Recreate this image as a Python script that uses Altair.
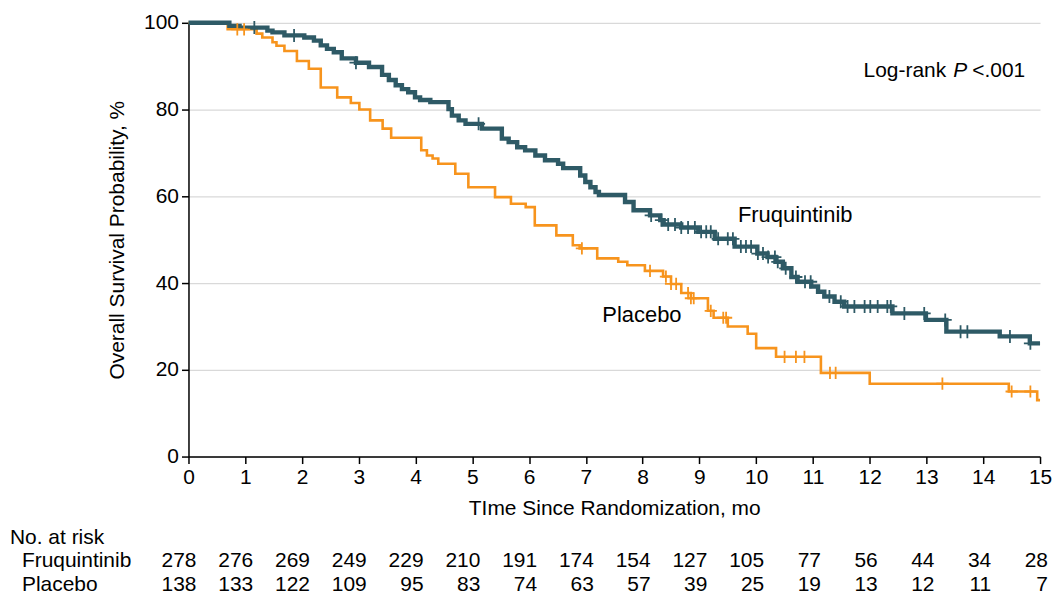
import altair as alt
import pandas as pd

# ---------------- data ----------------
months = list(range(16))

fru_time = [0, 0.72, 0.9, 1.39, 1.48, 1.69, 2.04, 2.21, 2.33, 2.44, 2.56, 2.70, 2.95, 3.18,
            3.41, 3.53, 3.65, 3.76, 3.87, 3.99, 4.08, 4.26, 4.58, 4.64, 4.76, 4.88, 5.17,
            5.52, 5.64, 5.79, 5.93, 6.11, 6.28, 6.51, 6.60, 6.90, 6.99, 7.08, 7.17, 7.23,
            7.69, 7.84, 8.13, 8.31, 8.37, 8.68, 8.98, 9.27, 9.62, 10.02, 10.20, 10.34,
            10.47, 10.62, 10.73, 10.97, 11.09, 11.20, 11.38, 11.55, 12.40, 12.99, 13.35,
            14.29, 14.82, 15.0]
fru_surv = [100, 99.3, 98.9, 98.2, 97.8, 97.1, 96.6, 95.9, 94.8, 94.0, 93.2, 91.8, 90.8, 89.8,
            88.0, 86.8, 85.6, 84.7, 84.0, 82.8, 82.2, 81.7, 80.1, 78.6, 77.5, 76.7, 75.6,
            73.3, 72.5, 71.3, 70.6, 69.4, 68.3, 67.5, 66.5, 64.8, 63.3, 62.1, 61.0, 60.3,
            58.7, 56.8, 55.6, 54.5, 53.5, 52.8, 51.8, 50.2, 48.4, 46.8, 46.0, 44.9,
            43.4, 41.4, 40.3, 39.2, 38.0, 36.9, 35.7, 34.6, 33.0, 31.5, 28.8,
            27.7, 26.1, 26.1]

pla_time = [0, 0.69, 1.20, 1.30, 1.48, 1.55, 1.69, 1.91, 2.12, 2.33, 2.62, 2.86, 3.01, 3.20,
            3.42, 3.57, 4.10, 4.20, 4.30, 4.40, 4.70, 4.93, 5.40, 5.68, 5.94, 6.10, 6.48,
            6.77, 6.89, 7.20, 7.57, 7.73, 8.04, 8.36, 8.50, 8.68, 8.85, 9.15, 9.25, 9.50,
            9.85, 10.00, 10.35, 11.14, 12.00, 14.45, 14.95, 15.0]
pla_surv = [100, 98.5, 97.5, 96.6, 95.5, 94.7, 93.5, 91.2, 89.4, 85.1, 82.8, 81.5, 80.0, 77.5,
            75.6, 73.5, 70.6, 69.4, 68.7, 67.5, 65.2, 62.1, 59.8, 58.3, 57.5, 53.3, 51.0,
            48.7, 48.0, 45.7, 44.9, 44.1, 42.8, 41.5, 39.8, 37.7, 36.5, 33.6, 32.0, 30.0,
            28.3, 25.0, 23.0, 19.3, 16.8, 15.0, 13.0, 13.0]

fru_cens = [1.16, 1.86, 2.95, 5.11, 8.15, 8.33, 8.45, 8.57, 8.68, 8.80, 8.92, 9.03, 9.12, 9.20,
            9.33, 9.50, 9.59, 9.73, 9.82, 9.91, 10.03, 10.12, 10.21, 10.33, 10.38, 10.52,
            10.70, 10.86, 10.96, 11.29, 11.49, 11.61, 11.73, 11.91, 12.01, 12.14, 12.31,
            12.37, 12.61, 12.96, 13.33, 13.60, 13.72, 14.47, 14.83]
pla_cens = [0.86, 0.98, 6.93, 8.13, 8.41, 8.50, 8.59, 8.80, 8.85, 8.90, 9.20, 9.42, 9.47,
            10.50, 10.70, 10.85, 11.30, 11.40, 13.28, 14.50, 14.83]

risk_fru = [278, 276, 269, 249, 229, 210, 191, 174, 154, 127, 105, 77, 56, 44, 34, 28]
risk_pla = [138, 133, 122, 109, 95, 83, 74, 63, 57, 39, 25, 19, 13, 12, 11, 7]

groups = ["Fruquintinib", "Placebo"]
annot_logrank = ["Log-rank", "P", "<.001"]
risk_title = "No. at risk"

FONT = "Liberation Sans"
DARK = "#2e5a66"
ORANGE = "#f7941d"
FS = 21

# ---------------- tables ----------------
fru_df = pd.DataFrame({"t": fru_time, "s": fru_surv})
pla_df = pd.DataFrame({"t": pla_time, "s": pla_surv})


def censor_df(times, steps):
    c = pd.DataFrame({"t": sorted(times)})
    return pd.merge_asof(c, steps.sort_values("t"), on="t")


fru_c = censor_df(fru_cens, fru_df)
pla_c = censor_df(pla_cens, pla_df)

xscale = alt.Scale(domain=[0, 15], nice=False, zero=True)
yscale = alt.Scale(domain=[0, 100], nice=False)

X = alt.X("t:Q", scale=xscale, axis=alt.Axis(
    values=months, format="d", labelFlush=False, title="TIme Since Randomization, mo", grid=False,
    tickSize=7, tickColor="black", tickWidth=1.5, domainColor="black", domainWidth=1.5,
    labelFont=FONT, labelFontSize=FS, labelColor="black", labelPadding=3,
    titleFont=FONT, titleFontSize=FS, titleFontWeight="normal", titleColor="black",
    titlePadding=10))
Y = alt.Y("s:Q", scale=yscale, axis=alt.Axis(
    values=[0, 20, 40, 60, 80, 100], format="d", title="Overall Survival Probability, %", grid=True,
    gridColor="#d9d9d9", gridWidth=1.2,
    tickSize=7, tickColor="black", tickWidth=1.5, domainColor="black", domainWidth=1.5,
    labelFont=FONT, labelFontSize=FS, labelColor="black", labelPadding=3,
    titleFont=FONT, titleFontSize=FS, titleFontWeight="normal", titleColor="black",
    titlePadding=16))

pla_line = alt.Chart(pla_df).mark_line(interpolate="step-after", color=ORANGE, strokeWidth=2.6).encode(x=X, y=Y)
fru_line = alt.Chart(fru_df).mark_line(interpolate="step-after", color=DARK, strokeWidth=4.4).encode(x="t:Q", y="s:Q")

plus = "M-1,0H1M0,-1V1"
pla_pts = alt.Chart(pla_c).mark_point(shape=plus, size=150, color=ORANGE, strokeWidth=1.8, filled=False, opacity=1).encode(x="t:Q", y="s:Q")
fru_pts = alt.Chart(fru_c).mark_point(shape=plus, size=170, color=DARK, strokeWidth=1.8, filled=False, opacity=1).encode(x="t:Q", y="s:Q")


def txt(s, x, y, align="left", size=FS, style="normal"):
    return alt.Chart(pd.DataFrame({"txt": [s]})).mark_text(
        align=align, baseline="middle", font=FONT, fontSize=size, fontStyle=style, color="black"
    ).encode(x=alt.value(x), y=alt.value(y), text="txt:N")


ROW1, ROW2 = 540, 564

labels = (
    txt(annot_logrank[0], 677, 48)
    + txt(annot_logrank[1], 767, 48, style="italic")
    + txt(annot_logrank[2], 786, 48)
    + txt(groups[0], 551, 193, size=22)
    + txt(groups[1], 415, 293, size=22)
    + txt(risk_title, -179, 517)
    + txt(groups[0], -167, ROW1)
    + txt(groups[1], -167, ROW2)
)

risk_df = pd.DataFrame({"t": months * 2,
                        "n": risk_fru + risk_pla,
                        "g": [groups[0]] * 16 + [groups[1]] * 16})
risk_f = alt.Chart(risk_df[risk_df.g == groups[0]]).mark_text(
    align="right", baseline="middle", font=FONT, fontSize=FS, color="black", dx=8
).encode(x="t:Q", y=alt.value(ROW1), text="n:Q")
risk_p = alt.Chart(risk_df[risk_df.g == groups[1]]).mark_text(
    align="right", baseline="middle", font=FONT, fontSize=FS, color="black", dx=8
).encode(x="t:Q", y=alt.value(ROW2), text="n:Q")

chart = alt.layer(pla_line, fru_line, pla_pts, fru_pts, labels, risk_f, risk_p).properties(
    width=854, height=435,
    padding={"left": 2, "top": 3, "right": 0, "bottom": 0},
).configure_view(strokeWidth=0)

chart.save("out.html", embed_options={"renderer": "svg", "actions": False})
